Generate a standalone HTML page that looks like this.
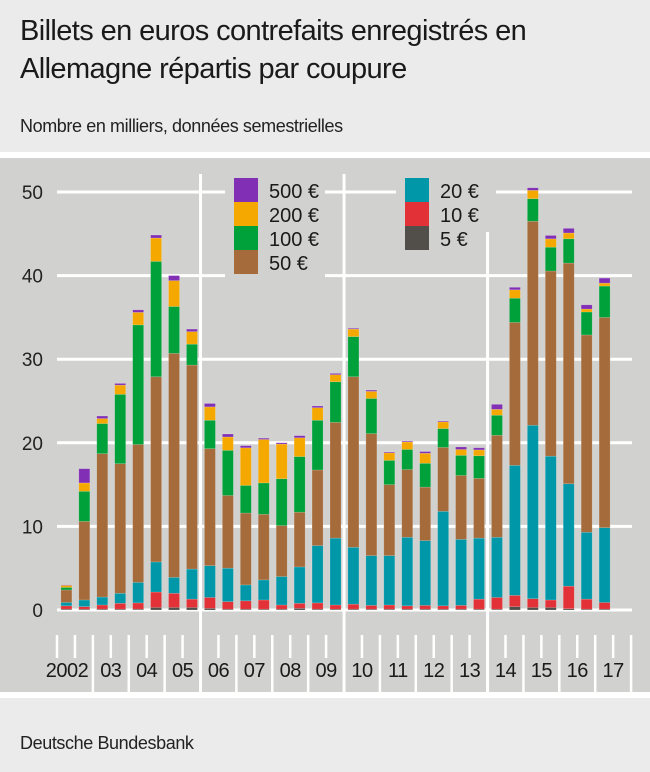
<!DOCTYPE html>
<html><head><meta charset="utf-8">
<style>
html,body{margin:0;padding:0;}
body{width:650px;height:772px;background:#ebebeb;position:relative;overflow:hidden;font-family:"Liberation Sans",sans-serif;}
.title{position:absolute;left:20px;top:12px;font-size:29px;line-height:38px;color:#1a1a1a;letter-spacing:-0.6px;}
.sub{position:absolute;left:20px;top:116px;font-size:18px;color:#222;letter-spacing:-0.4px;}
.foot{position:absolute;left:20px;top:733px;font-size:18px;color:#222;letter-spacing:-0.4px;}
svg{position:absolute;left:0;top:0;}
</style></head>
<body>
<div class="title">Billets en euros contrefaits enregistrés en<br>Allemagne répartis par coupure</div>
<div class="sub">Nombre en milliers, données semestrielles</div>
<svg id="chart" width="650" height="772"></svg>
<div class="foot">Deutsche Bundesbank</div>
<script>
const years = ["2002","03","04","05","06","07","08","09","10","11","12","13","14","15","16","17"];
const yTicks = [0,10,20,30,40,50];
const d5   = [0.1,0.1,0.1,0.1,0.1,0.3,0.3,0.3,0.2,0.1,0.1,0.1,0.1,0.2,0.1,0.1,0.1,0.1,0.1,0.1,0.1,0.1,0.1,0.1,0.1,0.4,0.3,0.3,0.15,0.1,0.1];
const d10  = [0.4,0.3,0.5,0.7,0.75,1.85,1.7,1.0,1.3,0.9,1.0,1.1,0.5,0.6,0.75,0.5,0.6,0.45,0.5,0.4,0.45,0.4,0.45,1.2,1.4,1.35,1.05,0.9,2.7,1.2,0.8];
const d20  = [0.4,0.8,0.95,1.2,2.45,3.6,1.9,3.6,3.8,4.0,1.9,2.4,3.4,4.35,6.85,8.0,6.8,5.95,5.9,8.2,7.75,11.3,7.9,7.3,7.2,15.55,20.75,17.2,12.25,8.0,8.95];
const d50  = [1.5,9.4,17.15,15.5,16.5,22.15,26.8,24.4,14.0,8.7,8.6,7.85,6.1,6.55,9.05,13.85,20.4,14.6,8.5,8.1,6.4,7.65,7.65,7.15,12.2,17.1,24.4,22.15,26.4,23.6,25.15];
const d100 = [0.3,3.6,3.6,8.3,14.3,13.8,5.6,2.5,3.4,5.4,3.3,3.75,5.6,6.65,5.95,4.85,4.8,4.2,2.9,2.4,2.85,2.25,2.4,2.7,2.4,2.9,2.7,2.85,2.9,2.75,3.75];
const d200 = [0.25,1.0,0.6,1.1,1.5,2.8,3.1,1.5,1.6,1.6,4.5,5.2,4.15,2.25,1.5,0.85,0.9,0.85,0.9,0.9,1.2,0.8,0.7,0.7,0.7,1.0,1.0,1.0,0.7,0.35,0.35];
const d500 = [0.05,1.7,0.3,0.2,0.3,0.35,0.6,0.3,0.4,0.35,0.25,0.15,0.15,0.25,0.2,0.15,0.1,0.15,0.1,0.1,0.2,0.1,0.3,0.25,0.6,0.3,0.3,0.4,0.55,0.5,0.6];

const NS="http://www.w3.org/2000/svg";
const svg=document.getElementById('chart');
function mk(t,a){const e=document.createElementNS(NS,t);for(const k in a)e.setAttribute(k,a[k]);svg.appendChild(e);return e;}
const X0=57, SLOT=17.94, Y0=610, YS=8.36;
const x=i=>X0+SLOT*i;
const y=v=>Y0-v*YS;

let r;
r=mk('rect',{x:0,y:152,width:650,height:6,fill:'#fff'});


r=mk('rect',{x:0,y:158,width:650,height:534,fill:'#d1d1cf'});


r=mk('rect',{x:0,y:692,width:650,height:6,fill:'#fff'});



yTicks.forEach(v=>{
  const g=mk('line',{x1:57,x2:632,y1:y(v),y2:y(v),stroke:'#fff','stroke-width':3});
  
  
  const t=mk('text',{x:43,y:y(v)+7,'text-anchor':'end','font-size':19,fill:'#222','font-family':'Liberation Sans, sans-serif'});
  t.textContent=v;
  
  
});
// legend masks
mk('rect',{x:225,y:168,width:100,height:112,fill:'#d1d1cf'});
mk('rect',{x:396,y:168,width:100,height:50,fill:'#d1d1cf'});

// vertical separators
[[8,174],[16,174],[24,232]].forEach(([k,top])=>{
  const l=mk('line',{x1:x(k),x2:x(k),y1:top,y2:692,stroke:'#fff','stroke-width':3});
  
  
});
// ticks
for(let k=0;k<=32;k++){
  const long=(k%2===0 && k>0);
  const l=mk('line',{x1:x(k),x2:x(k),y1:635,y2:long?692:658,stroke:'#fff','stroke-width':2.5});
  
  
}
years.forEach((yr,i)=>{
  const cx = i===0 ? 67 : x(2*i+1);
  const t=mk('text',{x:cx,y:677,'text-anchor':'middle','font-size':20,fill:'#1a1a1a','letter-spacing':'-0.5','font-family':'Liberation Sans, sans-serif'});
  t.textContent=yr;
  
  
});

const series=[['5',d5,'#524f4a'],['10',d10,'#e33237'],['20',d20,'#0097a8'],['50',d50,'#a56b3b'],['100',d100,'#00a13a'],['200',d200,'#f5a800'],['500',d500,'#8130b6']];
for(let i=0;i<d5.length;i++){
  let cum=0;
  series.forEach(([nm,arr,col])=>{
    const v=arr[i];
    const b=mk('rect',{x:x(i)+3.9,y:y(cum+v),width:11,height:Math.max(0,v*YS),fill:col,stroke:'rgba(255,255,255,0.25)','stroke-width':0.6});
    
    
    cum+=v;
  });
}
// legend
const leg=[['500 €','#8130b6',234,178],['200 €','#f5a800',234,202],['100 €','#00a13a',234,226],['50 €','#a56b3b',234,250],
           ['20 €','#0097a8',405,178],['10 €','#e33237',405,202],['5 €','#524f4a',405,226]];
leg.forEach(([lab,col,lx,ly])=>{
  const s=mk('rect',{x:lx,y:ly,width:24,height:24,fill:col});
  
  
  const t=mk('text',{x:lx+35,y:ly+20,'font-size':20,fill:'#1a1a1a','font-family':'Liberation Sans, sans-serif'});
  t.textContent=lab;
  
  
});
</script>
</body></html>
